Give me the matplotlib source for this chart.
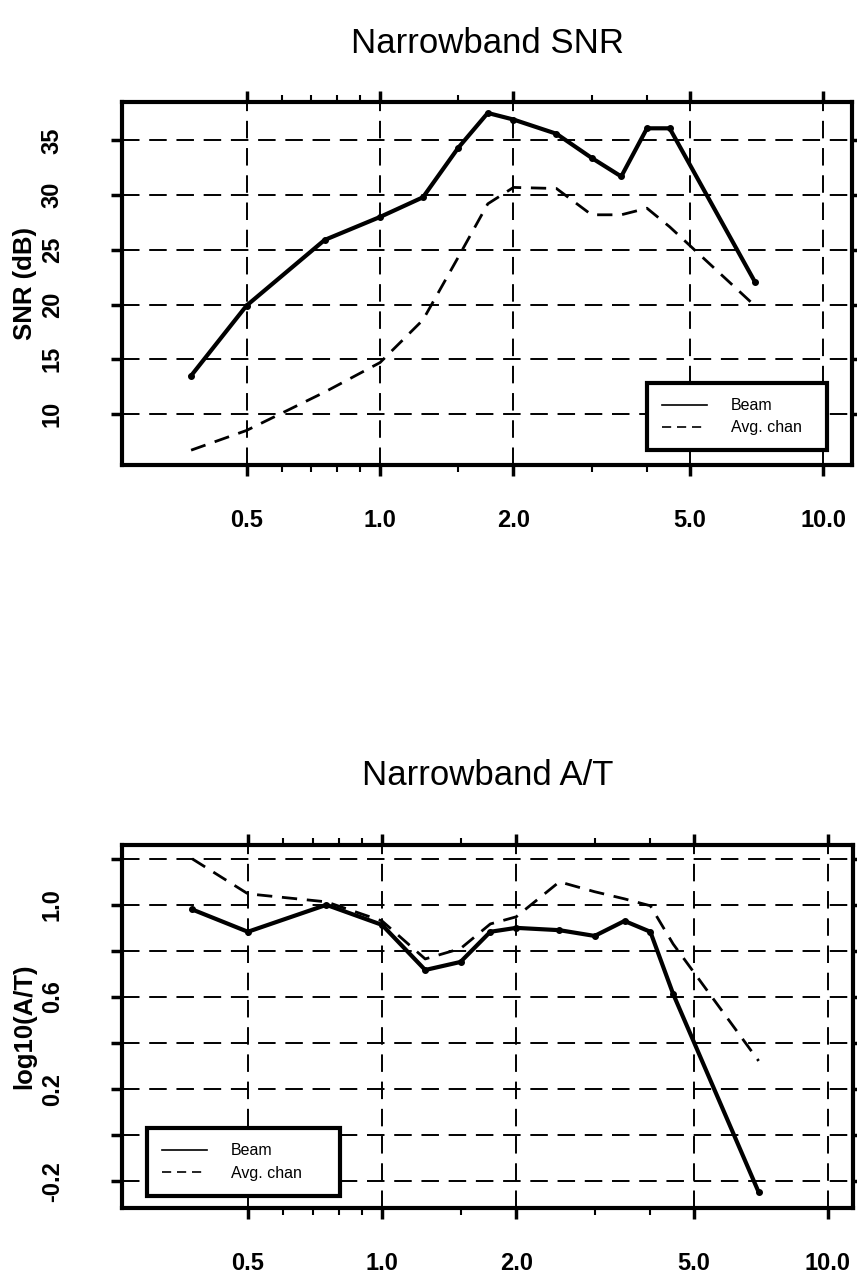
import numpy as np
import matplotlib.pyplot as plt
from matplotlib.ticker import FixedLocator, FixedFormatter, NullFormatter

plt.rcParams["font.family"] = ["Liberation Sans", "DejaVu Sans"]

# frequencies (log x axis)
freq = [0.375, 0.5, 0.75, 1.0, 1.25, 1.5, 1.75, 2.0, 2.5, 3.0, 3.5, 4.0, 4.5, 7.0]

snr_beam = [13.5, 19.9, 25.9, 28.0, 29.8, 34.3, 37.5, 36.9, 35.6, 33.4, 31.7, 36.1, 36.1, 22.1]
snr_avg = [6.7, 8.5, 12.0, 14.7, 18.6, 24.3, 29.2, 30.7, 30.6, 28.2, 28.2, 28.8, 27.1, 19.9]

at_beam = [0.98, 0.883, 1.0, 0.913, 0.717, 0.752, 0.883, 0.9, 0.89, 0.865, 0.93, 0.883, 0.613, -0.248]
at_avg = [1.2, 1.048, 1.013, 0.93, 0.765, 0.81, 0.917, 0.948, 1.1, 1.057, 1.026, 0.996, 0.83, 0.322]

x_major = [0.5, 1.0, 2.0, 5.0, 10.0]
x_major_labels = ["0.5", "1.0", "2.0", "5.0", "10.0"]
x_minor = [0.6, 0.7, 0.8, 0.9, 1.5, 3.0, 4.0]

snr_ticks = [10, 15, 20, 25, 30, 35]
at_ticks = [-0.2, 0.0, 0.2, 0.4, 0.6, 0.8, 1.0, 1.2]
at_labels = ["-0.2", "", "0.2", "", "0.6", "", "1.0", ""]

fig = plt.figure(figsize=(8.57, 12.77), dpi=100)
ax1 = fig.add_axes([0.1424, 0.6359, 0.8518, 0.2842])
ax2 = fig.add_axes([0.1424, 0.0540, 0.8530, 0.2843])


def style_axes(ax, yticks, ylabels):
    ax.set_xscale("log")
    ax.xaxis.set_major_locator(FixedLocator(x_major))
    ax.xaxis.set_major_formatter(FixedFormatter(x_major_labels))
    ax.xaxis.set_minor_locator(FixedLocator(x_minor))
    ax.xaxis.set_minor_formatter(NullFormatter())
    ax.yaxis.set_major_locator(FixedLocator(yticks))
    ax.yaxis.set_major_formatter(FixedFormatter(ylabels))
    ax.grid(True, which="major", color="black", linestyle=(0, (9, 5)), linewidth=1.4)
    ax.tick_params(which="major", direction="out", length=8, width=2.5,
                   top=True, right=True, labelsize=17, colors="black")
    ax.tick_params(which="minor", direction="out", length=5, width=1.5,
                   top=True, bottom=True)
    ax.tick_params(axis="x", which="major", pad=24)
    ax.tick_params(axis="y", which="major", pad=34)
    for lab in ax.get_yticklabels():
        lab.set_rotation(90)
        lab.set_va("center")
        lab.set_fontweight("bold")
    for lab in ax.get_xticklabels():
        lab.set_fontweight("bold")
    for sp in ax.spines.values():
        sp.set_linewidth(3)


def add_legend(ax, box):
    leg = ax.legend(loc="upper left", bbox_to_anchor=box, mode="expand", fontsize=11.5,
                    frameon=True, fancybox=False, edgecolor="black", framealpha=1,
                    handlelength=2.8, handletextpad=1.5, borderpad=0.95,
                    labelspacing=0.45, borderaxespad=0)
    leg.get_frame().set_linewidth(3)
    for h in leg.get_lines():
        h.set_linewidth(1.2)
        h.set_marker("")
    return leg


# top panel: SNR
ax1.plot(freq, snr_beam, color="black", linewidth=3, marker="o", markersize=4, label="Beam")
ax1.plot(freq, snr_avg, color="black", linewidth=2, linestyle=(0, (5.5, 3.5)), label="Avg. chan")
ax1.set_xlim(0.262, 11.6)
ax1.set_ylim(5.35, 38.5)
style_axes(ax1, snr_ticks, [str(t) for t in snr_ticks])
ax1.set_ylabel("SNR (dB)", fontsize=18.5, fontweight="bold")
ax1.yaxis.set_label_coords(-0.117, 0.5)
ax1.set_title("Narrowband SNR", fontsize=25, pad=35)
add_legend(ax1, (0.719, 0.0, 0.2466, 0.226))

# bottom panel: A/T
ax2.plot(freq, at_beam, color="black", linewidth=3, marker="o", markersize=4, label="Beam")
ax2.plot(freq, at_avg, color="black", linewidth=2, linestyle=(0, (5.5, 3.5)), label="Avg. chan")
ax2.set_xlim(0.261, 11.4)
ax2.set_ylim(-0.317, 1.26)
style_axes(ax2, at_ticks, at_labels)
ax2.set_ylabel("log10(A/T)", fontsize=18.5, fontweight="bold")
ax2.yaxis.set_label_coords(-0.117, 0.5)
ax2.set_title("Narrowband A/T", fontsize=25, pad=43)
add_legend(ax2, (0.034, 0.0, 0.264, 0.220))

fig.savefig("out.png", dpi=100)
